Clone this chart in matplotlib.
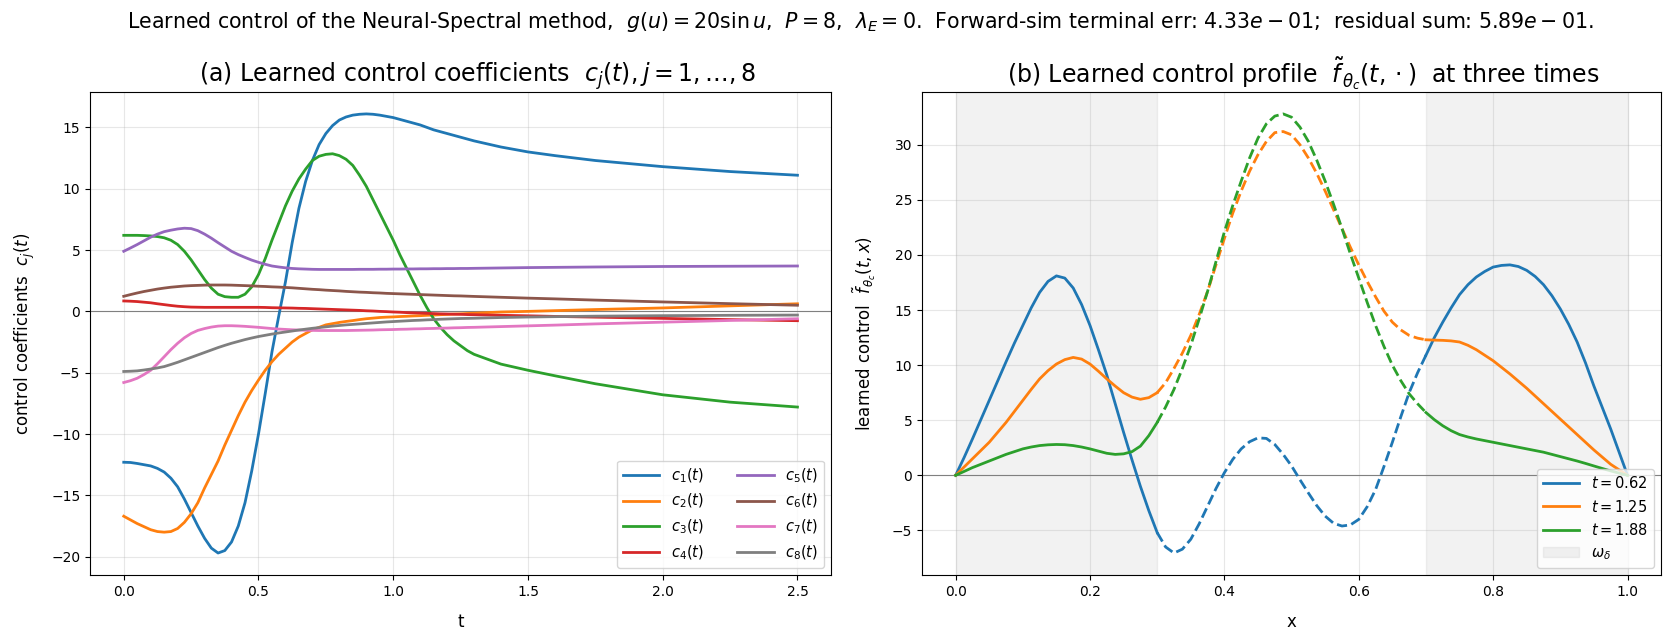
import numpy as np
import matplotlib
matplotlib.use("Agg")
import matplotlib.pyplot as plt

# ---- panel (a): control coefficients c_j(t) ----
t = [round(0.025 * i, 3) for i in range(53)] + [1.4, 1.5, 1.6, 1.75, 2.0, 2.25, 2.5]

c1 = [-12.3, -12.32, -12.4, -12.5, -12.6, -12.8, -13.1, -13.6, -14.3, -15.3,
      -16.4, -17.5, -18.5, -19.3, -19.7, -19.5, -18.8, -17.5, -15.6, -13.0,
      -10.0, -6.7, -3.3, -0.4, 2.4, 5.6, 8.4, 10.6, 12.3, 13.6,
      14.5, 15.15, 15.6, 15.85, 16.0, 16.07, 16.1, 16.07, 16.0, 15.9,
      15.8, 15.65, 15.5, 15.35, 15.2, 15.0, 14.8, 14.65, 14.5, 14.35,
      14.2, 14.05, 13.9,
      13.4, 13.0, 12.7, 12.3, 11.8, 11.4, 11.1]
c2 = [-16.7, -17.0, -17.3, -17.55, -17.8, -17.95, -18.0, -17.95, -17.7, -17.2,
      -16.5, -15.6, -14.4, -13.3, -12.2, -10.9, -9.7, -8.5, -7.4, -6.45,
      -5.6, -4.8, -4.1, -3.5, -3.0, -2.5, -2.1, -1.8, -1.5, -1.3,
      -1.1, -1.0, -0.9, -0.82, -0.75, -0.67, -0.6, -0.55, -0.5, -0.47,
      -0.45, -0.42, -0.4, -0.37, -0.35, -0.32, -0.3, -0.27, -0.25, -0.22,
      -0.2, -0.17, -0.15,
      -0.05, 0.0, 0.06, 0.15, 0.28, 0.45, 0.62]
c3 = [6.2, 6.2, 6.2, 6.18, 6.15, 6.1, 6.0, 5.8, 5.45, 4.9,
      4.2, 3.4, 2.6, 1.9, 1.4, 1.2, 1.15, 1.15, 1.4, 2.0,
      3.0, 4.3, 5.8, 7.2, 8.6, 9.8, 10.8, 11.6, 12.3, 12.65,
      12.8, 12.85, 12.7, 12.4, 11.9, 11.1, 10.2, 9.1, 8.0, 6.9,
      5.8, 4.6, 3.5, 2.4, 1.3, 0.3, -0.6, -1.3, -1.9, -2.4,
      -2.8, -3.2, -3.5,
      -4.3, -4.8, -5.25, -5.9, -6.8, -7.4, -7.8]
c4 = [0.85, 0.83, 0.8, 0.75, 0.7, 0.62, 0.55, 0.48, 0.42, 0.38,
      0.35, 0.34, 0.33, 0.33, 0.33, 0.33, 0.33, 0.33, 0.33, 0.33,
      0.33, 0.32, 0.3, 0.29, 0.28, 0.27, 0.25, 0.24, 0.22, 0.2,
      0.18, 0.16, 0.14, 0.12, 0.1, 0.08, 0.05, 0.03, 0.0, -0.02,
      -0.05, -0.07, -0.1, -0.12, -0.14, -0.16, -0.18, -0.2, -0.21, -0.23,
      -0.24, -0.26, -0.27,
      -0.32, -0.36, -0.41, -0.47, -0.57, -0.67, -0.76]
c5 = [4.9, 5.17, 5.45, 5.75, 6.05, 6.3, 6.5, 6.62, 6.72, 6.78,
      6.75, 6.58, 6.3, 5.97, 5.6, 5.25, 4.9, 4.63, 4.4, 4.18,
      4.0, 3.84, 3.7, 3.62, 3.55, 3.5, 3.47, 3.45, 3.43, 3.42,
      3.42, 3.42, 3.42, 3.42, 3.42, 3.43, 3.43, 3.43, 3.44, 3.44,
      3.45, 3.45, 3.46, 3.46, 3.47, 3.47, 3.48, 3.48, 3.49, 3.49,
      3.5, 3.5, 3.51,
      3.54, 3.57, 3.59, 3.62, 3.66, 3.68, 3.7]
c6 = [1.23, 1.37, 1.5, 1.62, 1.72, 1.82, 1.9, 1.97, 2.02, 2.07,
      2.1, 2.12, 2.14, 2.15, 2.15, 2.15, 2.14, 2.12, 2.1, 2.08,
      2.05, 2.03, 2.0, 1.98, 1.95, 1.92, 1.88, 1.84, 1.8, 1.77,
      1.73, 1.7, 1.67, 1.63, 1.6, 1.57, 1.55, 1.52, 1.5, 1.47,
      1.45, 1.43, 1.41, 1.39, 1.37, 1.35, 1.33, 1.31, 1.29, 1.27,
      1.26, 1.24, 1.22,
      1.15, 1.08, 1.02, 0.92, 0.77, 0.63, 0.5]
c7 = [-5.8, -5.65, -5.45, -5.15, -4.8, -4.27, -3.7, -3.12, -2.6, -2.15,
      -1.8, -1.55, -1.4, -1.28, -1.2, -1.17, -1.17, -1.19, -1.22, -1.26,
      -1.3, -1.35, -1.4, -1.44, -1.47, -1.5, -1.52, -1.54, -1.55, -1.56,
      -1.56, -1.56, -1.56, -1.56, -1.55, -1.54, -1.53, -1.52, -1.5, -1.49,
      -1.48, -1.46, -1.45, -1.43, -1.42, -1.4, -1.39, -1.37, -1.36, -1.34,
      -1.33, -1.31, -1.3,
      -1.24, -1.18, -1.12, -1.02, -0.88, -0.74, -0.6]
c8 = [-4.9, -4.88, -4.85, -4.78, -4.7, -4.61, -4.5, -4.33, -4.15, -3.95,
      -3.75, -3.55, -3.35, -3.15, -2.95, -2.77, -2.6, -2.45, -2.3, -2.17,
      -2.05, -1.95, -1.85, -1.76, -1.68, -1.6, -1.52, -1.45, -1.38, -1.32,
      -1.26, -1.2, -1.15, -1.1, -1.06, -1.02, -0.98, -0.94, -0.9, -0.86,
      -0.83, -0.8, -0.77, -0.74, -0.72, -0.69, -0.67, -0.64, -0.62, -0.6,
      -0.58, -0.57, -0.56,
      -0.5, -0.46, -0.43, -0.39, -0.35, -0.32, -0.3]
coeffs = [c1, c2, c3, c4, c5, c6, c7, c8]

# ---- panel (b): control profile at three times ----
x = np.round(np.arange(81) * 0.0125, 4)
times = [0.62, 1.25, 1.88]
f_062 = [0.0, 1.6, 3.3, 5.05, 6.8, 8.55, 10.3, 12.0,
         13.6, 15.2, 16.6, 17.6, 18.1, 17.9, 17.0, 15.5,
         13.6, 11.4, 9.1, 6.5, 3.9, 1.4, -1.0, -3.2,
         -5.2, -6.5, -7.05, -6.7, -5.8, -4.4, -2.8, -1.2,
         0.24, 1.45, 2.4, 3.05, 3.4, 3.35, 2.8, 1.9,
         0.85, -0.4, -1.6, -2.75, -3.7, -4.35, -4.6, -4.5,
         -4.0, -2.85, -1.3, 0.8, 3.0, 5.3, 7.5, 9.3,
         10.9, 12.5, 13.9, 15.2, 16.4, 17.3, 18.0, 18.5,
         18.9, 19.05, 19.1, 18.95, 18.6, 18.05, 17.3, 16.3,
         15.1, 13.7, 12.1, 10.2, 8.1, 6.15, 4.2, 2.1,
         0.0]
f_125 = [0.0, 0.75, 1.5, 2.25, 3.0, 3.9, 4.8, 5.8,
         6.8, 7.8, 8.75, 9.5, 10.1, 10.5, 10.7, 10.55,
         10.1, 9.45, 8.75, 8.1, 7.5, 7.1, 6.9, 7.05,
         7.5, 8.4, 9.7, 11.1, 12.7, 14.6, 16.7, 19.1,
         21.5, 23.8, 25.8, 27.6, 29.1, 30.3, 31.1, 31.2,
         30.9, 30.0, 28.8, 27.4, 25.8, 24.1, 22.4, 20.7,
         19.1, 17.6, 16.2, 14.9, 13.9, 13.2, 12.7, 12.45,
         12.3, 12.27, 12.25, 12.2, 12.1, 11.8, 11.4, 10.9,
         10.4, 9.8, 9.2, 8.55, 7.9, 7.2, 6.5, 5.8,
         5.1, 4.4, 3.7, 3.0, 2.3, 1.65, 1.0, 0.5,
         0.0]
f_188 = [0.0, 0.35, 0.7, 1.0, 1.3, 1.6, 1.9, 2.15,
         2.4, 2.57, 2.7, 2.77, 2.8, 2.78, 2.7, 2.57,
         2.4, 2.2, 2.0, 1.9, 1.95, 2.15, 2.65, 3.6,
         4.8, 6.2, 7.8, 9.7, 11.8, 14.2, 16.7, 19.4,
         22.1, 24.5, 26.7, 28.8, 30.6, 31.9, 32.6, 32.8,
         32.5, 31.6, 30.3, 28.6, 26.7, 24.6, 22.4, 20.1,
         17.9, 15.7, 13.6, 11.7, 10.0, 8.6, 7.4, 6.5,
         5.7, 5.05, 4.5, 4.05, 3.7, 3.48, 3.3, 3.15,
         3.0, 2.85, 2.7, 2.55, 2.4, 2.25, 2.1, 1.9,
         1.7, 1.5, 1.3, 1.08, 0.85, 0.62, 0.4, 0.2,
         0.0]
profiles = [f_062, f_125, f_188]
omega = [(0.0, 0.3), (0.7, 1.0)]

colors = plt.rcParams['axes.prop_cycle'].by_key()['color']

fig = plt.figure(figsize=(16.74, 6.43), dpi=100)
ax1 = fig.add_axes([0.0538, 0.1058, 0.4427, 0.7512])
ax2 = fig.add_axes([0.5508, 0.1058, 0.4415, 0.7512])

leg_kw = dict(loc='lower right', fontsize=10.5, handlelength=2.5, columnspacing=2.3)

# (a)
ax1.axhline(0, color='gray', lw=0.8)
for j, c in enumerate(coeffs):
    ax1.plot(t, c, lw=2, color=colors[j], label=rf'$c_{{{j+1}}}(t)$')
ax1.set_title(r'(a) Learned control coefficients  $c_j(t), j=1,\ldots,8$',
              fontsize=17, pad=3, x=0.523)
ax1.set_xlabel('t', fontsize=12, labelpad=10)
ax1.set_ylabel(r'control coefficients  $c_j(t)$', fontsize=12, labelpad=10)
ax1.grid(alpha=0.3)
ax1.legend(ncol=2, **leg_kw)

# (b)
ax2.axhline(0, color='gray', lw=0.8)
for k, (a, b) in enumerate(omega):
    ax2.axvspan(a, b, color='gray', alpha=0.1, label=r'$\omega_\delta$' if k == 0 else None)
for i, (tt, f) in enumerate(zip(times, profiles)):
    f = np.asarray(f)
    left = x <= 0.3 + 1e-9
    mid = (x >= 0.3 - 1e-9) & (x <= 0.7 + 1e-9)
    right = x >= 0.7 - 1e-9
    ax2.plot(x[left], f[left], lw=2, color=colors[i], label=rf'$t={tt:.2f}$')
    ax2.plot(x[mid], f[mid], lw=2, ls='--', color=colors[i])
    ax2.plot(x[right], f[right], lw=2, color=colors[i])
ax2.set_title(r'(b) Learned control profile  $\tilde f_{\theta_c}(t,\cdot)$  at three times',
              fontsize=17, pad=3, x=0.516)
ax2.set_xlabel('x', fontsize=12, labelpad=10)
ax2.set_ylabel(r'learned control  $\tilde f_{\theta_c}(t,x)$', fontsize=12, labelpad=10)
ax2.grid(alpha=0.3)
h, l = ax2.get_legend_handles_labels()
order = [1, 2, 3, 0]
ax2.legend([h[o] for o in order], [l[o] for o in order], **leg_kw)

fig.suptitle(r'Learned control of the Neural-Spectral method,  $g(u)=20\sin u$,  $P=8$,  '
             r'$\lambda_E=0$.  Forward-sim terminal err: $4.33e-01$;  residual sum: $5.89e-01$.',
             fontsize=14.8, x=0.514, y=0.985)

fig.savefig('out.png', dpi=100)
